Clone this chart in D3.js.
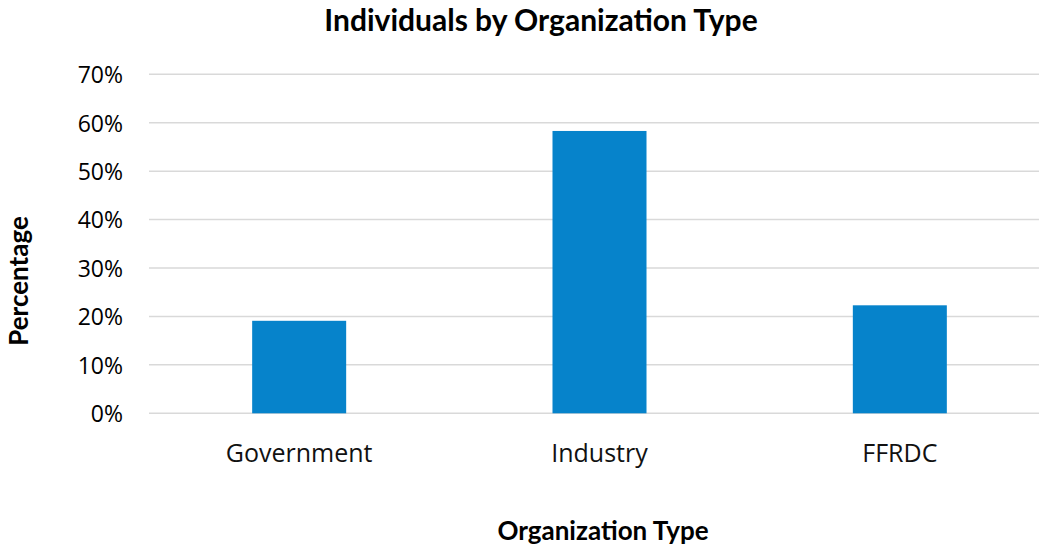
<!DOCTYPE html>
<html>
<head>
<meta charset="utf-8">
<script src="https://cdn.jsdelivr.net/npm/d3@7"></script>
<style>
  body { margin: 0; background: #fff; }
  svg { display: block; }
</style>
</head>
<body>
<svg id="chart" width="1039" height="550"></svg>
<script>
const categories = ['Government', 'Industry', 'FFRDC'];
const shares = [0.191, 0.583, 0.223];
const yTicks = [0, 0.1, 0.2, 0.3, 0.4, 0.5, 0.6, 0.7];

const svg = d3.select('#chart');

const plot = { left: 149, right: 1050, top: 74.3, bottom: 413.3 };
const bodyFont = "'Open Sans', sans-serif";
const boldFont = "Lato, 'Open Sans', sans-serif";

const x = d3.scaleBand()
  .domain(categories)
  .range([plot.left, plot.right])
  .paddingInner(0.687)
  .paddingOuter(0.3435);

const y = d3.scaleLinear()
  .domain([0, 0.7])
  .range([plot.bottom, plot.top]);

// gridlines
svg.append('g')
  .selectAll('line')
  .data(yTicks)
  .join('line')
  .attr('x1', plot.left)
  .attr('x2', plot.right)
  .attr('y1', d => y(d))
  .attr('y2', d => y(d))
  .attr('stroke', '#d9d9d9')
  .attr('stroke-width', 1.5);

// y axis labels
const yAxis = svg.append('g')
  .attr('transform', `translate(${plot.left - 26},0)`)
  .call(d3.axisLeft(y).tickValues(yTicks).tickFormat(d3.format('.0%')).tickSize(0).tickPadding(0));
yAxis.select('.domain').remove();
yAxis.selectAll('text')
  .attr('dy', '0.36em')
  .style('font-family', bodyFont)
  .style('font-size', '23px')
  .style('fill', '#000');

// bars
svg.append('g')
  .selectAll('rect')
  .data(categories.map((c, i) => ({ c, v: shares[i] })))
  .join('rect')
  .attr('x', d => x(d.c))
  .attr('width', x.bandwidth())
  .attr('y', d => y(d.v))
  .attr('height', d => y(0) - y(d.v))
  .attr('fill', '#0683cb');

// category labels
const xAxis = svg.append('g')
  .attr('transform', `translate(0,${plot.bottom})`)
  .call(d3.axisBottom(x).tickSize(0).tickPadding(0));
xAxis.select('.domain').remove();
xAxis.selectAll('text')
  .attr('y', 49)
  .attr('dy', 0)
  .style('font-family', bodyFont)
  .style('font-size', '25px')
  .style('fill', '#111');

// titles
function addTitle(text, size, transform) {
  svg.append('text')
    .attr('transform', transform)
    .attr('text-anchor', 'middle')
    .style('font-family', boldFont)
    .style('font-weight', 'bold')
    .style('font-size', size + 'px')
    .style('fill', '#000')
    .text(text);
}

addTitle('Individuals by Organization Type', 30, 'translate(541,31)');
addTitle('Organization Type', 26, 'translate(603,540)');
addTitle('Percentage', 26, 'translate(28,281) rotate(-90)');
</script>
</body>
</html>
